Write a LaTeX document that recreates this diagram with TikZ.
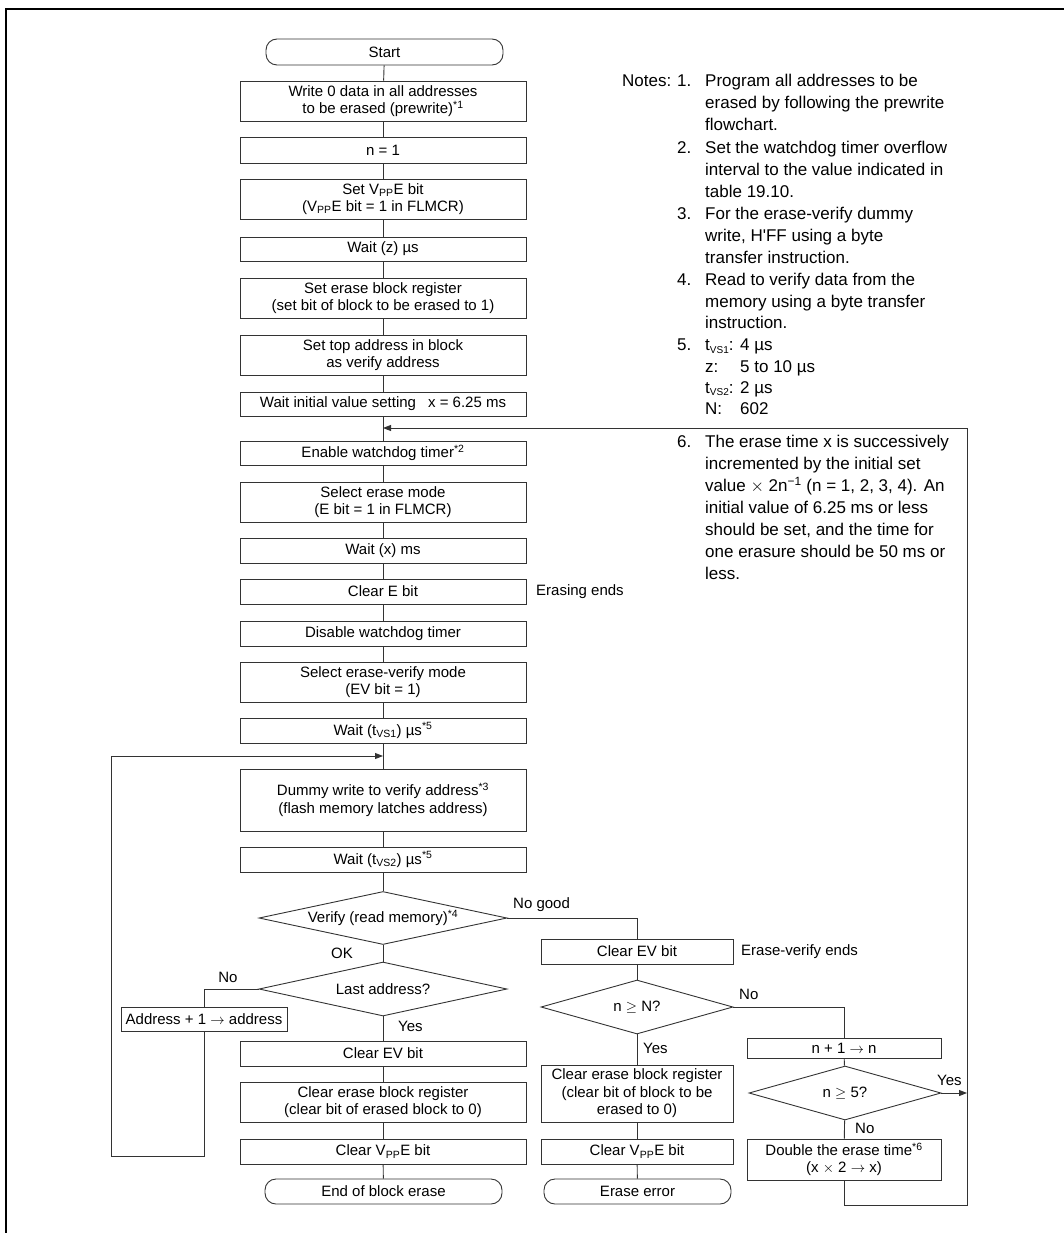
\documentclass[tikz,border=0pt]{standalone}
\usepackage{fontspec}
\setmainfont{Liberation Sans}
\usetikzlibrary{shapes.geometric,arrows.meta}
\newcommand\notelinexy[4]{\node[note] (#1) at (#2,#3) {#4};}
\newcommand\notesub[1]{\raisebox{-2.5pt}{\fontsize{10}{10}\selectfont #1}}
\begin{document}
\begin{tikzpicture}[x=1pt,y=-1pt,
  line/.style={draw=black!80, line width=0.9pt},
  arr/.style={line, -{Triangle[length=8pt,width=6pt]}},
  box/.style={draw=black!80, line width=0.9pt, rectangle, inner sep=0pt, align=center,
     font=\fontsize{15}{17.5}\selectfont},
  mainbox/.style={box, minimum width=286pt},
  midbox/.style={box, minimum width=192pt},
  rbox/.style={box, minimum width=194pt},
  term/.style={box, rounded corners=11pt, minimum height=25pt},
  dia/.style={draw=black!80, line width=0.9pt, diamond, inner sep=0pt, align=center,
     font=\fontsize{15}{17.5}\selectfont},
  lbl/.style={font=\fontsize{15}{17.5}\selectfont, inner sep=0pt},
  note/.style={font=\fontsize{17}{22}\selectfont, inner sep=0pt, anchor=base west}
]
\useasboundingbox (0,0) rectangle (1064,1233);
% frame
\draw[line width=2pt] (6,1233) -- (6,9) -- (1064,9);

% main column
\node[term, minimum width=237pt, minimum height=26pt] (s) at (384.5,52) {Start};
\node[mainbox, minimum height=40pt] (b1) at (383,101) {Write 0 data in all addresses\\to be erased (prewrite)\textsuperscript{*1}};
\node[mainbox, minimum height=26pt] (b2) at (383,150) {n = 1};
\node[mainbox, minimum height=40pt] (b3) at (383,199) {Set V\textsubscript{PP}E bit\\(V\textsubscript{PP}E bit = 1 in FLMCR)};
\node[mainbox, minimum height=24pt] (b4) at (383,249) {Wait (z) µs};
\node[mainbox, minimum height=40pt] (b5) at (383,298) {Set erase block register\\(set bit of block to be erased to 1)};
\node[mainbox, minimum height=40pt] (b6) at (383,355) {Set top address in block\\as verify address};
\node[mainbox, minimum height=24pt] (b7) at (383,404) {Wait initial value setting\hspace{12pt}x = 6.25 ms};
\node[mainbox, minimum height=24pt] (b8) at (383,453) {Enable watchdog timer\textsuperscript{*2}};
\node[mainbox, minimum height=40pt] (b9) at (383,502) {Select erase mode\\(E bit = 1 in FLMCR)};
\node[mainbox, minimum height=25pt] (b10) at (383,550.5) {Wait (x) ms};
\node[mainbox, minimum height=25pt] (b11) at (383,591.5) {Clear E bit};
\node[mainbox, minimum height=25pt] (b12) at (383,633.5) {Disable watchdog timer};
\node[mainbox, minimum height=40pt] (b13) at (383,682) {Select erase-verify mode\\(EV bit = 1)};
\node[mainbox, minimum height=25pt] (b14) at (383,730.5) {Wait (t\textsubscript{VS1}) µs\textsuperscript{*5}};
\node[mainbox, minimum height=62pt] (b15) at (383,800) {Dummy write to verify address\textsuperscript{*3}\\(flash memory latches address)};
\node[mainbox, minimum height=25pt] (b16) at (383,859.5) {Wait (t\textsubscript{VS2}) µs\textsuperscript{*5}};
\node[dia, minimum width=248pt, minimum height=53pt, aspect=4.68] (d1) at (383,918) {Verify (read memory)\textsuperscript{*4}};
\node[dia, minimum width=248pt, minimum height=54pt, aspect=4.6] (d2) at (383,989) {Last address?};
\node[box, minimum width=166pt, minimum height=24pt] (a1) at (204,1019) {Address + 1 $\rightarrow$ address};
\node[mainbox, minimum height=25pt] (b17) at (383,1053.5) {Clear EV bit};
\node[mainbox, minimum height=40pt] (b18) at (383,1102) {Clear erase block register\\(clear bit of erased block to 0)};
\node[mainbox, minimum height=25pt] (b19) at (383,1151.5) {Clear V\textsubscript{PP}E bit};
\node[term, minimum width=237pt] (e1) at (383.5,1191.5) {End of block erase};

% middle column
\node[midbox, minimum height=25pt] (m1) at (637,951.5) {Clear EV bit};
\node[dia, minimum width=192pt, minimum height=54pt, aspect=3.55] (d3) at (637,1007) {n $\geq$ N?};
\node[midbox, minimum height=57pt] (m2) at (637,1093.5) {Clear erase block register\\(clear bit of block to be\\erased to 0)};
\node[midbox, minimum height=25pt] (m3) at (637,1151.5) {Clear V\textsubscript{PP}E bit};
\node[term, minimum width=187pt] (e2) at (637.5,1191.5) {Erase error};

% right column
\node[rbox, minimum height=20pt] (r1) at (844,1048) {n + 1 $\rightarrow$ n};
\node[dia, minimum width=192pt, minimum height=54pt, aspect=3.55] (d4) at (845,1093) {n $\geq$ 5?};
\node[rbox, minimum height=41pt] (r2) at (844,1159.5) {Double the erase time\textsuperscript{*6}\\(x $\times$ 2 $\rightarrow$ x)};

% merge / loop coordinates
\coordinate (mergeA) at (383,428);
\coordinate (mergeB) at (383,756);
\coordinate (loopBR) at (967,1205);
\coordinate (loopBL) at (111,1156);

% straight connectors
\foreach \a/\b in {s/b1,b1/b2,b2/b3,b3/b4,b4/b5,b5/b6,b6/b7,b7/b8,b8/b9,b9/b10,b10/b11,b11/b12,b12/b13,b13/b14,b14/b15,b15/b16,b16/d1,d1/d2,d2/b17,b17/b18,b18/b19,b19/e1,m1/d3,d3/m2,m2/m3,m3/e2,r1/d4,d4/r2}
  \draw[line] (\a) -- (\b);

\draw[line] (d1.east) -| (m1.north);
\draw[line] (d2.west) -| (a1.north);
\draw[line] (d3.east) -| (r1.north);
\draw[arr] (d4.east) -- (d4.east -| loopBR);
\draw[arr] (a1.south) |- (loopBL) |- (mergeB);
\draw[arr] (r2.south) |- (loopBR) |- (mergeA);

% labels
\node[lbl, anchor=west] (l1) at (536,591.5) {Erasing ends};
\node[lbl, anchor=west] (l2) at (741,951.5) {Erase-verify ends};
\node[lbl, anchor=west] (l3) at (513,905) {No good};
\node[lbl] (l4) at (342,953) {OK};
\node[lbl] (l5) at (228,977) {No};
\node[lbl, anchor=west] (l6) at (398,1026) {Yes};
\node[lbl, anchor=west] (l7) at (739,994) {No};
\node[lbl, anchor=west] (l8) at (643,1048) {Yes};
\node[lbl, anchor=west] (l9) at (937,1080) {Yes};
\node[lbl, anchor=west] (l10) at (855,1128) {No};

% notes
\notelinexy{nh}{622}{86.5}{Notes:}
\notelinexy{n1}{677}{86.5}{1.}
\notelinexy{n1a}{705}{86.5}{Program all addresses to be}
\notelinexy{n1b}{705}{108.5}{erased by following the prewrite}
\notelinexy{n1c}{705}{130.5}{flowchart.}
\notelinexy{n2}{677}{153.5}{2.}
\notelinexy{n2a}{705}{153.5}{Set the watchdog timer overflow}
\notelinexy{n2b}{705}{175.5}{interval to the value indicated in}
\notelinexy{n2c}{705}{197.5}{table 19.10.}
\notelinexy{n3}{677}{219.5}{3.}
\notelinexy{n3a}{705}{219.5}{For the erase-verify dummy}
\notelinexy{n3b}{705}{241.5}{write, H\textquotesingle FF using a byte}
\notelinexy{n3c}{705}{263.5}{transfer instruction.}
\notelinexy{n4}{677}{285.5}{4.}
\notelinexy{n4a}{705}{285.5}{Read to verify data from the}
\notelinexy{n4b}{705}{307.5}{memory using a byte transfer}
\notelinexy{n4c}{705}{328.5}{instruction.}
\notelinexy{n5}{677}{350.5}{5.}
\notelinexy{n5a}{705}{350.5}{t\notesub{VS1}:}
\notelinexy{n5av}{740}{350.5}{4 µs}
\notelinexy{n5b}{705}{372.5}{z:}
\notelinexy{n5bv}{740}{372.5}{5 to 10 µs}
\notelinexy{n5c}{705}{393}{t\notesub{VS2}:}
\notelinexy{n5cv}{740}{393}{2 µs}
\notelinexy{n5d}{705}{414}{N:}
\notelinexy{n5dv}{740}{414}{602}
\notelinexy{n6}{677}{447.5}{6.}
\notelinexy{n6a}{705}{447.5}{The erase time x is successively}
\notelinexy{n6b}{705}{469.5}{incremented by the initial set}
\notelinexy{n6c}{705}{491.5}{value $\times$ 2n\textsuperscript{\textminus1} (n = 1, 2, 3, 4). An}
\notelinexy{n6d}{705}{513.5}{initial value of 6.25 ms or less}
\notelinexy{n6e}{705}{535.5}{should be set, and the time for}
\notelinexy{n6f}{705}{557.5}{one erasure should be 50 ms or}
\notelinexy{n6g}{705}{579.5}{less.}
\end{tikzpicture}
\end{document}
